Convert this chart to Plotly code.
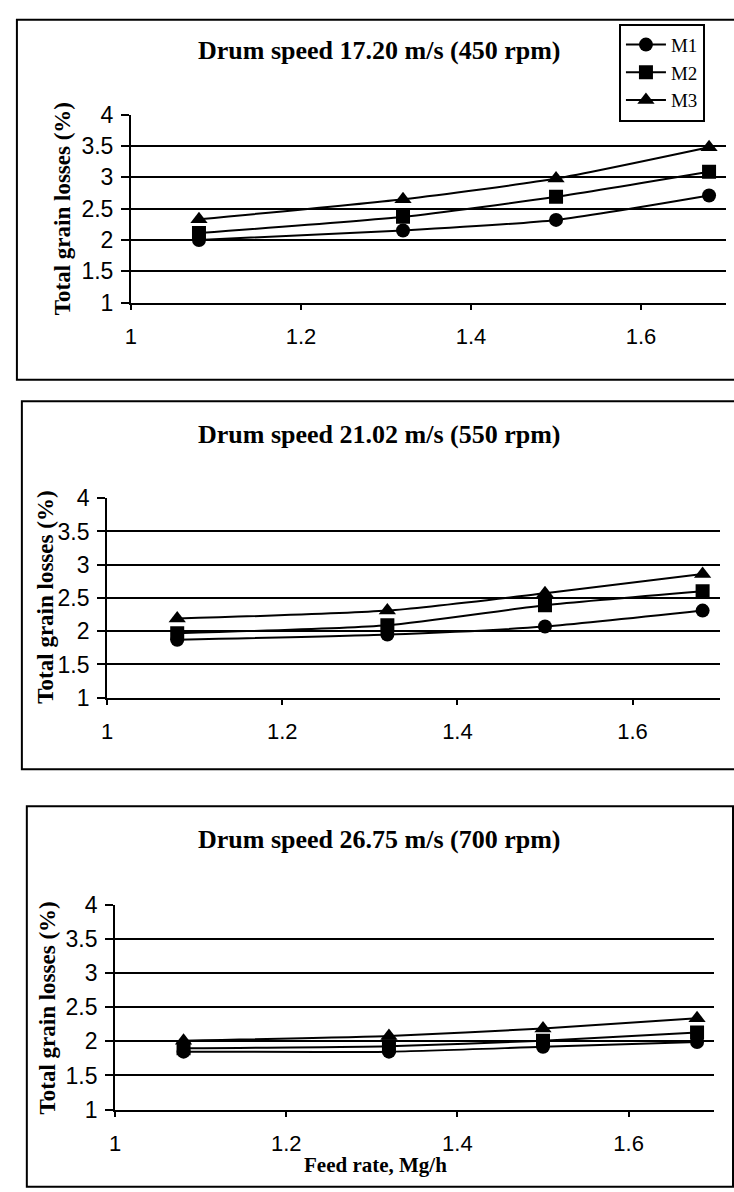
import plotly.graph_objects as go

W, H = 734, 1192

feed_rate = [1.08, 1.32, 1.5, 1.68]
series_names = ["M1", "M2", "M3"]
symbols = ["circle", "square", "triangle-up"]

# Panel 1: drum speed 17.20 m/s (450 rpm)
p1_m1 = [2.00, 2.15, 2.32, 2.71]
p1_m2 = [2.11, 2.37, 2.69, 3.09]
p1_m3 = [2.33, 2.65, 2.98, 3.48]
# Panel 2: drum speed 21.02 m/s (550 rpm)
p2_m1 = [1.87, 1.95, 2.07, 2.31]
p2_m2 = [1.97, 2.09, 2.39, 2.60]
p2_m3 = [2.19, 2.31, 2.57, 2.86]
# Panel 3: drum speed 26.75 m/s (700 rpm)
p3_m1 = [1.85, 1.85, 1.92, 1.99]
p3_m2 = [1.90, 1.93, 2.01, 2.13]
p3_m3 = [2.01, 2.08, 2.19, 2.34]

titles = ["Drum speed 17.20 m/s (450 rpm)",
          "Drum speed 21.02 m/s (550 rpm)",
          "Drum speed 26.75 m/s (700 rpm)"]
y_title = "Total grain losses (%)"
x_title = "Feed rate, Mg/h"
x_ticks = [1, 1.2, 1.4, 1.6]
x_tick_text = ["1", "1.2", "1.4", "1.6"]
y_ticks = [1, 1.5, 2, 2.5, 3, 3.5, 4]
y_tick_text = ["1", "1.5", "2", "2.5", "3", "3.5", "4"]
grid_vals = [1.5, 2, 2.5, 3, 3.5]

panels = [[p1_m1, p1_m2, p1_m3], [p2_m1, p2_m2, p2_m3], [p3_m1, p3_m2, p3_m3]]


def px(x):
    return x / W


def py(y):
    return 1 - y / H


# layout in pixels: plot area (left, right, top, bottom)
plot_boxes = [(126, 726, 104, 296), (102, 720, 496, 700), (110, 714, 912, 1121)]
frames = [(11, 745, 7, 375), (16, 745, 397, 773), (21, 733, 811, 1200)]
title_pos = [(377, 38), (377, 431), (377, 845)]
ytitle_pos = [(57, 200), (40, 597), (42, 1017)]

fig = go.Figure()

for i, series in enumerate(panels):
    xa = "x" if i == 0 else f"x{i+1}"
    ya = "y" if i == 0 else f"y{i+1}"
    for j, vals in enumerate(series):
        fig.add_trace(go.Scatter(
            x=feed_rate, y=vals, name=series_names[j],
            mode="lines+markers",
            line=dict(color="black", width=2, shape="spline", smoothing=0.6),
            marker=dict(symbol=symbols[j], size=15 if j == 2 else 14, color="black"),
            xaxis=xa, yaxis=ya,
            showlegend=(i == 0), legendgroup=series_names[j],
        ))

layout = dict(
    width=W, height=H, autosize=False,
    margin=dict(l=0, r=0, t=0, b=0),
    paper_bgcolor="white", plot_bgcolor="white",
    showlegend=True,
    legend=dict(x=px(618), y=py(11), xanchor="left", yanchor="top",
                bordercolor="black", borderwidth=2, bgcolor="white",
                font=dict(family="Liberation Serif", size=19, color="black"),
                tracegroupgap=0, itemwidth=40),
)

annotations = []
shapes = []
for i in range(3):
    l, r, t, b = plot_boxes[i]
    xk = "xaxis" if i == 0 else f"xaxis{i+1}"
    yk = "yaxis" if i == 0 else f"yaxis{i+1}"
    yanchor = "y" if i == 0 else f"y{i+1}"
    xanchor = "x" if i == 0 else f"x{i+1}"
    layout[xk] = dict(
        domain=[px(l), px(r)], range=[1, 1.7], anchor=yanchor,
        tickmode="array", tickvals=x_ticks, ticktext=x_tick_text,
        showline=True, linecolor="black", linewidth=2,
        ticks="outside", ticklen=5, tickwidth=2, tickcolor="black",
        showgrid=False, zeroline=False, ticklabelstandoff=8,
        tickfont=dict(family="Liberation Sans", size=22, color="black"),
    )
    layout[yk] = dict(
        domain=[py(b), py(t)], range=[1, 4], anchor=xanchor,
        tickmode="array", tickvals=y_ticks, ticktext=y_tick_text,
        showline=True, linecolor="black", linewidth=2,
        ticks="outside", ticklen=8, tickwidth=2, tickcolor="black",
        showgrid=False, zeroline=False, ticklabelstandoff=3,
        tickfont=dict(family="Liberation Sans", size=23, color="black"),
        minor=dict(tickmode="array", tickvals=grid_vals, showgrid=True,
                   gridcolor="black", gridwidth=2, ticks=""),
    )
    fl, fr, ft, fb = frames[i]
    shapes.append(dict(type="rect", xref="paper", yref="paper",
                       x0=px(fl), x1=px(fr), y0=py(fb), y1=py(ft),
                       line=dict(color="black", width=2), fillcolor="rgba(0,0,0,0)",
                       layer="below"))
    tx, ty = title_pos[i]
    annotations.append(dict(text=f"<b>{titles[i]}</b>", x=px(tx), y=py(ty),
                            xref="paper", yref="paper", showarrow=False,
                            xanchor="center", yanchor="middle",
                            font=dict(family="Liberation Serif", size=26, color="black")))
    yx, yy = ytitle_pos[i]
    annotations.append(dict(text=f"<b>{y_title}</b>", x=px(yx), y=py(yy),
                            xref="paper", yref="paper", showarrow=False, textangle=-90,
                            xanchor="center", yanchor="middle",
                            font=dict(family="Liberation Serif", size=23, color="black")))

annotations.append(dict(text=f"<b>{x_title}</b>", x=px(373), y=py(1178),
                        xref="paper", yref="paper", showarrow=False,
                        xanchor="center", yanchor="middle",
                        font=dict(family="Liberation Serif", size=21, color="black")))

layout["annotations"] = annotations
layout["shapes"] = shapes
fig.update_layout(**layout)

fig.write_html("out.html",
               config={"displayModeBar": False},
               post_script="document.body.style.margin='0';document.body.style.overflow='hidden';")
